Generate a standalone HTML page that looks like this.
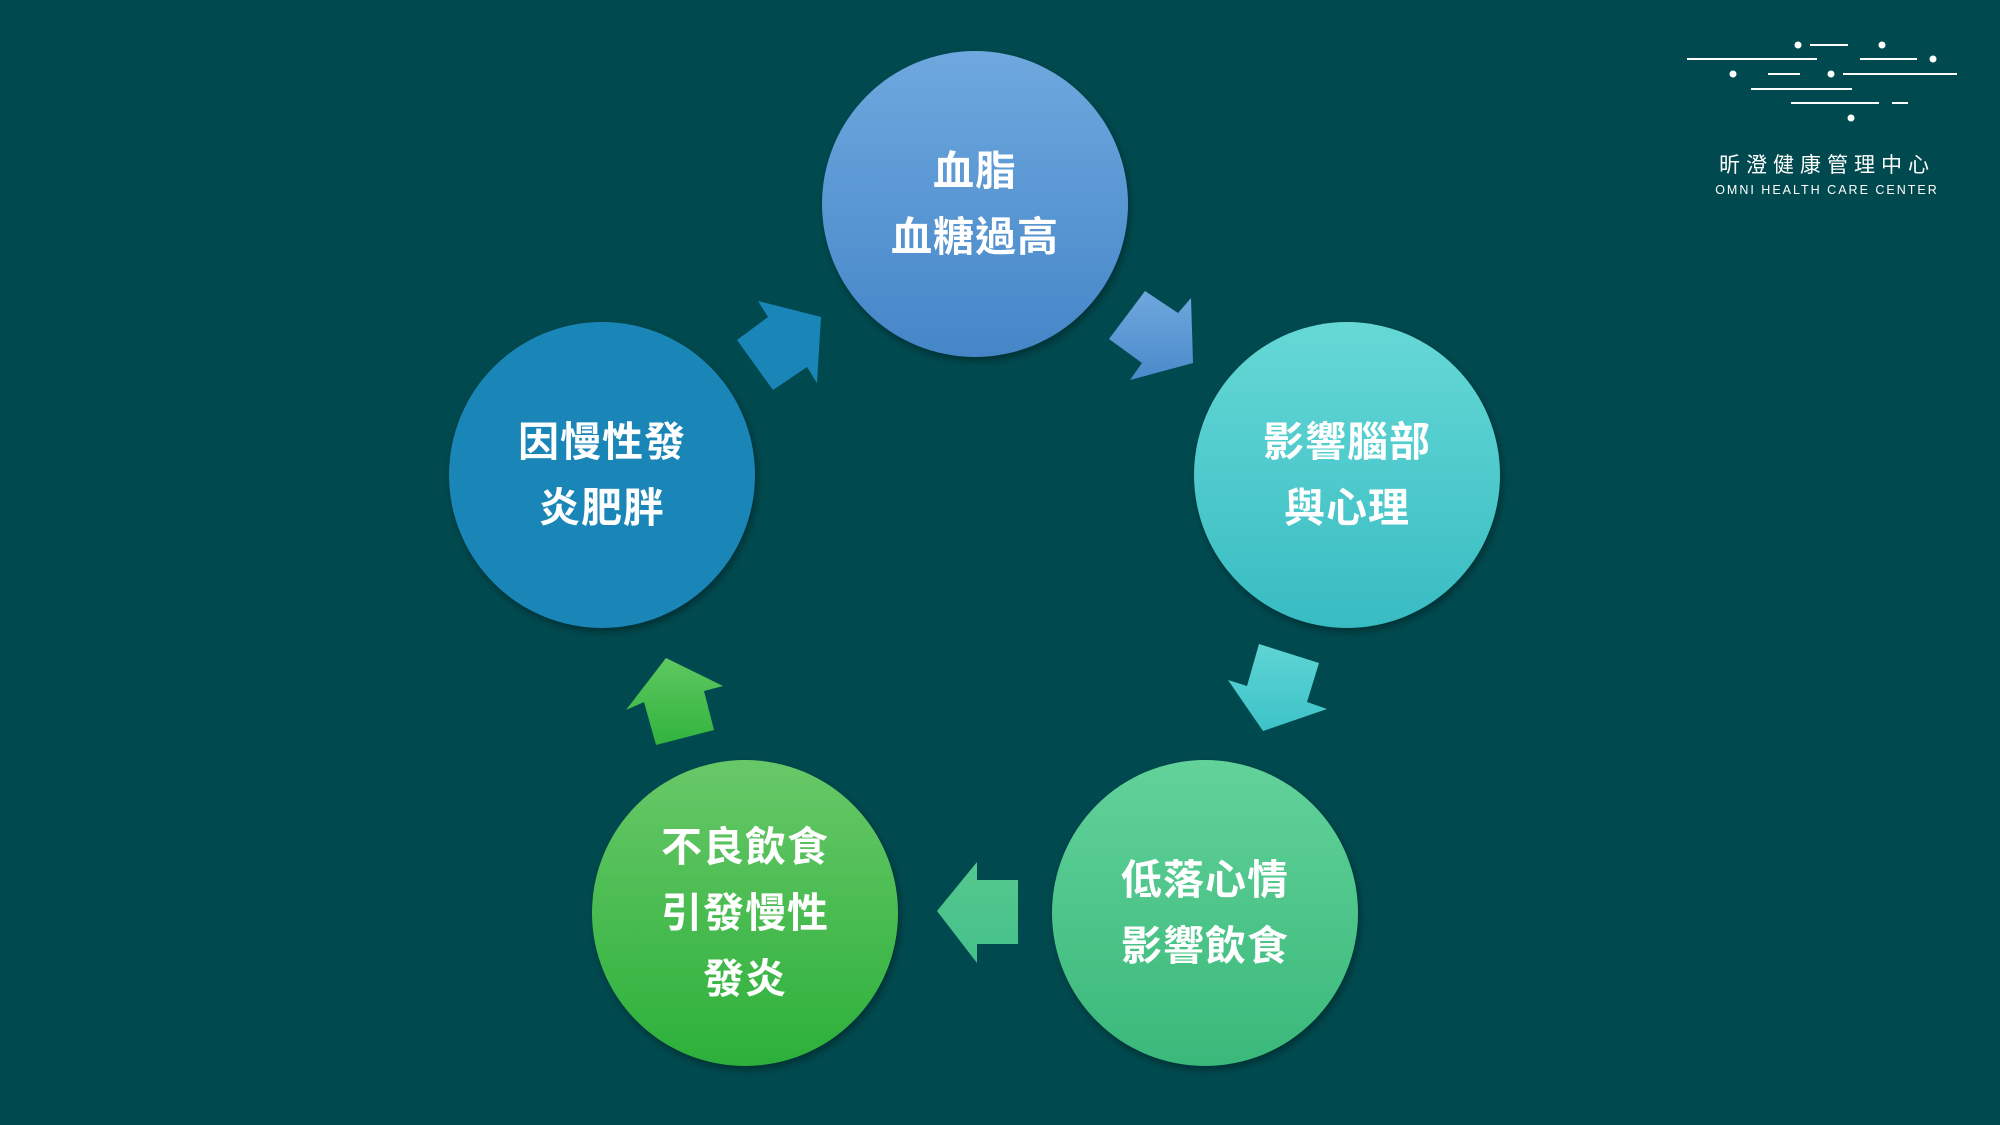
<!DOCTYPE html>
<html><head><meta charset="utf-8"><style>
html,body{margin:0;padding:0}
body{width:2000px;height:1125px;background:#004a4f;position:relative;overflow:hidden;font-family:"Liberation Sans","Noto Sans CJK TC",sans-serif}
.c{position:absolute;width:306px;height:306px;border-radius:50%;display:flex;align-items:center;justify-content:center;text-align:center;color:#fff;font-weight:bold;font-size:41px;line-height:66px;letter-spacing:1px;box-shadow:2px 4px 8px rgba(0,0,0,.35)}
svg{position:absolute;left:0;top:0}
</style></head><body>
<svg width="2000" height="1125">
<defs>
<linearGradient id="g1" x1="0" y1="0" x2="0" y2="1"><stop offset="0" stop-color="#6fa8dd"/><stop offset="1" stop-color="#4a8acb"/></linearGradient>
<linearGradient id="g2" x1="0" y1="0" x2="0" y2="1"><stop offset="0" stop-color="#5fd4d4"/><stop offset="1" stop-color="#3dc3c8"/></linearGradient>
<linearGradient id="g3" x1="0" y1="0" x2="0" y2="1"><stop offset="0" stop-color="#55c88e"/><stop offset="1" stop-color="#45c08a"/></linearGradient>
<linearGradient id="g4" x1="0" y1="0" x2="0" y2="1"><stop offset="0" stop-color="#5ec860"/><stop offset="1" stop-color="#32b33e"/></linearGradient>
</defs>
<polygon points="737,340 768,317 758,301 821,317 817,383 807,367 773,390" fill="#1a86b8"/>
<polygon points="1109,339 1145,291 1178,313 1191,298 1193,363 1130,380 1142,363" fill="url(#g1)"/>
<polygon points="1259,644 1319,663 1307,702 1327,709 1263,731 1228,680 1247,686" fill="url(#g2)"/>
<polygon points="1018,880 977,880 977,862 937,911 977,963 977,944 1018,944" fill="url(#g3)"/>
<polygon points="656,745 644,702 626,710 666,658 723,686 704,691 714,730" fill="url(#g4)"/>
<g stroke="#fff" stroke-width="2">
<line x1="1810" y1="45" x2="1848" y2="45"/>
<line x1="1687" y1="59" x2="1817" y2="59"/><line x1="1860" y1="59" x2="1917" y2="59"/>
<line x1="1768" y1="74" x2="1800" y2="74"/><line x1="1843" y1="74" x2="1957" y2="74"/>
<line x1="1751" y1="89" x2="1852" y2="89"/>
<line x1="1791" y1="103" x2="1879" y2="103"/><line x1="1892" y1="103" x2="1908" y2="103"/>
</g>
<g fill="#fff">
<circle cx="1798" cy="45" r="3.5"/><circle cx="1882" cy="45" r="3.5"/><circle cx="1933" cy="59" r="3.5"/>
<circle cx="1733" cy="74" r="3.5"/><circle cx="1831" cy="74" r="3.5"/><circle cx="1851" cy="118" r="3.5"/>
</g>
<text x="1827" y="172" fill="#fff" font-size="21" text-anchor="middle" letter-spacing="6" font-family="Noto Sans CJK TC, sans-serif">昕澄健康管理中心</text>
<text x="1827" y="194" fill="#fff" font-size="12.5" text-anchor="middle" letter-spacing="2" font-family="Liberation Sans, sans-serif">OMNI HEALTH CARE CENTER</text>
</svg>
<div class="c" style="left:822px;top:51px;background:linear-gradient(#6ea8de,#4586c8)">血脂<br>血糖過高</div>
<div class="c" style="left:1194px;top:322px;background:linear-gradient(#66d8d6,#38bcc2)">影響腦部<br>與心理</div>
<div class="c" style="left:1052px;top:760px;background:linear-gradient(#62d29a,#3ab87a)">低落心情<br>影響飲食</div>
<div class="c" style="left:592px;top:760px;background:linear-gradient(#68c868,#2cb03a)">不良飲食<br>引發慢性<br>發炎</div>
<div class="c" style="left:449px;top:322px;background:#1a86b8">因慢性發<br>炎肥胖</div>
</body></html>
